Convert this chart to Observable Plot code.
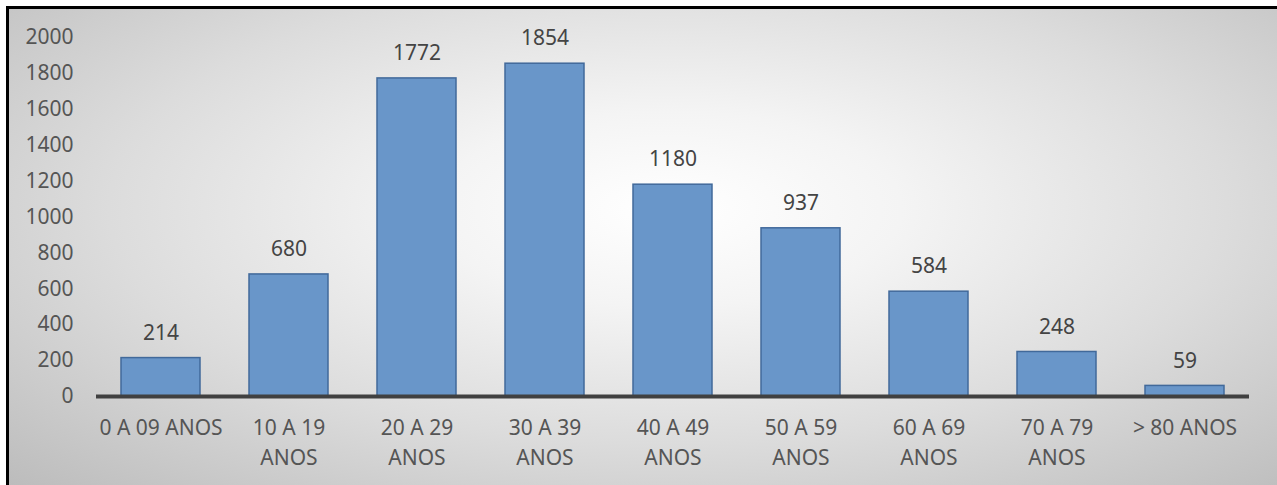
<!DOCTYPE html>
<html>
<head>
<meta charset="utf-8">
<script src="https://cdn.jsdelivr.net/npm/d3@7"></script>
<script src="https://cdn.jsdelivr.net/npm/@observablehq/plot@0.6"></script>
<style>
  html, body { margin: 0; padding: 0; background: #ffffff; }
  #wrap { position: relative; width: 1277px; height: 485px; overflow: hidden; }
  #bg { position: absolute; left: 6px; top: 6px; width: 1271px; height: 479px;
        border-top: 3px solid #000; border-left: 3px solid #000; box-sizing: border-box;
        background: radial-gradient(ellipse farthest-corner at 52% 42%, #ffffff 0%, #f4f4f4 25%, #dcdcdc 60%, #bcbcbc 100%); }
  #chart { position: absolute; left: 0; top: 0; }
</style>
</head>
<body>
<div id="wrap"><div id="bg"></div><div id="chart"></div></div>
<script>
const categories = ["0 A 09 ANOS", "10 A 19 ANOS", "20 A 29 ANOS", "30 A 39 ANOS", "40 A 49 ANOS", "50 A 59 ANOS", "60 A 69 ANOS", "70 A 79 ANOS", "> 80 ANOS"];
const tickLabels = ["0 A 09 ANOS", "10 A 19\nANOS", "20 A 29\nANOS", "30 A 39\nANOS", "40 A 49\nANOS", "50 A 59\nANOS", "60 A 69\nANOS", "70 A 79\nANOS", "> 80 ANOS"];
const values = [214, 680, 1772, 1854, 1180, 937, 584, 248, 59];
const yTicks = [0, 200, 400, 600, 800, 1000, 1200, 1400, 1600, 1800, 2000];

const data = categories.map((c, i) => ({cat: c, value: values[i]}));
const labelOf = new Map(categories.map((c, i) => [c, tickLabels[i]]));

const chart = Plot.plot({
  width: 1277,
  height: 485,
  marginLeft: 96,
  marginRight: 28,
  marginTop: 37,
  marginBottom: 89,
  style: { background: "transparent", fontFamily: "'Noto Sans', sans-serif", fontSize: "21px", overflow: "visible" },
  x: { domain: categories, paddingInner: 0.38, paddingOuter: 0.19, label: null },
  y: { domain: [0, 2000], label: null },
  marks: [
    Plot.axisY({ ticks: yTicks, tickSize: 0, tickPadding: 23, fontSize: 21, fill: "#555555", tickFormat: d => String(d), label: null }),
    Plot.axisX({ tickSize: 0, tickPadding: 17, fontSize: 21, fill: "#555555", lineHeight: 1.43, tickFormat: d => labelOf.get(d), label: null }),
    Plot.barY(data, { x: "cat", y: "value", fill: "#6996c9", stroke: "#41699a", strokeWidth: 1.5 }),
    Plot.ruleY([0], { stroke: "#404040", strokeWidth: 4 }),
    Plot.text(data, { x: "cat", y: "value", text: d => String(d.value), dy: -25, lineAnchor: "middle", fontSize: 21, fill: "#444444" })
  ]
});
document.getElementById("chart").appendChild(chart);
</script>
</body>
</html>
